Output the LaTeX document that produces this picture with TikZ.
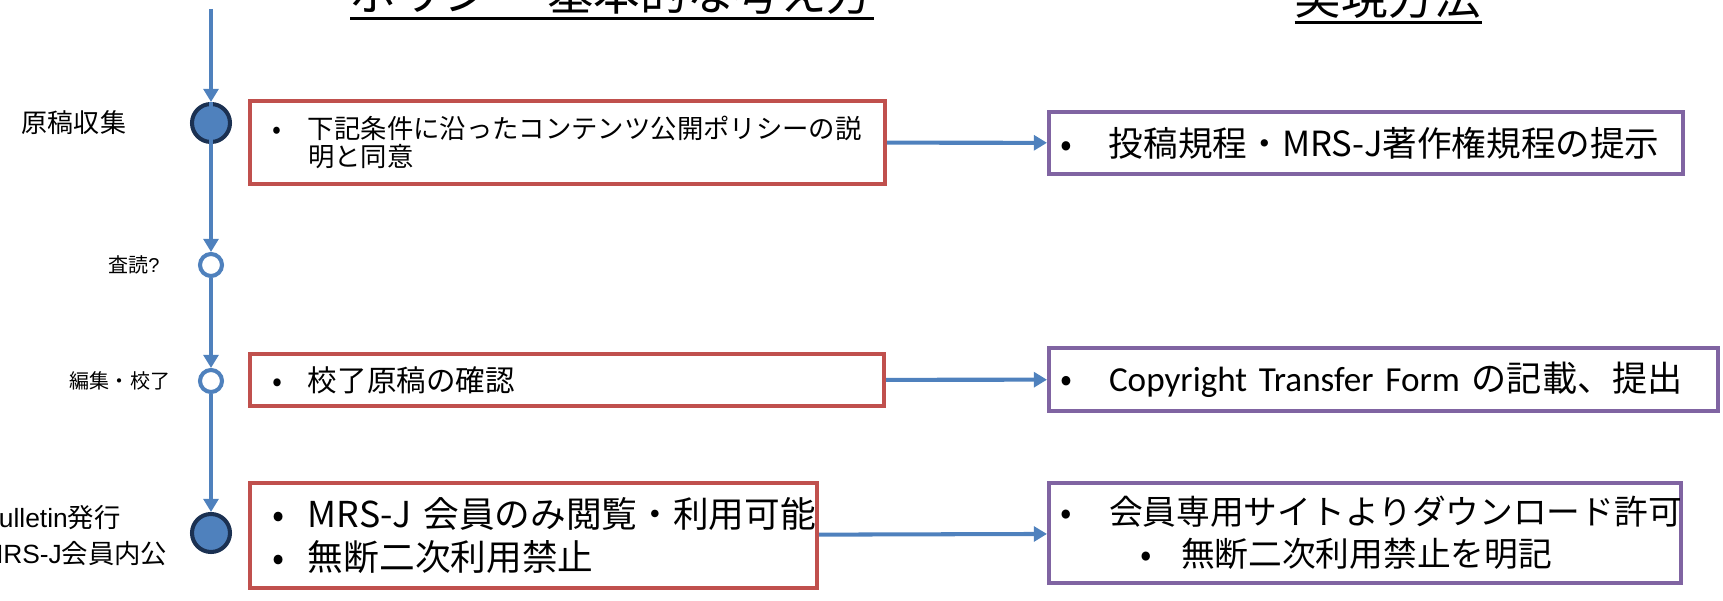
\documentclass[tikz,border=0pt]{standalone}
\usepackage{fontspec}
\setmainfont{Noto Sans CJK JP}
\newfontfamily\calibrifont{Carlito}
\newfontfamily\arialfont{Liberation Sans}
\usetikzlibrary{arrows.meta}
\definecolor{lineblue}{HTML}{4F81BD}
\definecolor{dotnavy}{HTML}{1B3152}
\definecolor{boxred}{HTML}{C0504D}
\definecolor{boxpurple}{HTML}{8064A2}
\newcommand{\lbul}[1]{\makebox[0.72cm][l]{•}#1}
\newcommand{\rbul}[1]{\makebox[0.98cm][l]{•}#1}
\tikzset{
	tline/.style={draw=lineblue, line width=2.3pt, -{Triangle[width=8.5pt,length=7.5pt]}},
	bigdot/.style={circle, draw=dotnavy, fill=lineblue, line width=2.3pt, minimum size=0.76cm, inner sep=0pt},
	ring/.style={circle, draw=lineblue, fill=white, line width=2.3pt, minimum size=0.44cm, inner sep=0pt},
	policy/.style={draw=boxred, line width=2.3pt, inner xsep=0.44cm, inner ysep=0pt, align=left},
	method/.style={draw=boxpurple, line width=2.3pt, inner xsep=0.22cm, inner ysep=0pt, align=left},
	heading/.style={anchor=base, inner sep=0pt, font=\fontsize{26.5pt}{30pt}\selectfont},
	stage/.style={inner sep=0pt, align=center},
}
\begin{document}
\begin{tikzpicture}
	\useasboundingbox (0,0) rectangle (34.46,-12.02);
	% headings
	\node[heading] (t1) at (12.24,-0.22) {ポリシー 基本的な考え方};
	\node[heading] (t2) at (27.76,-0.30) {実現方法};
	\draw[line width=1.7pt] ([yshift=-4.3pt]t1.base west) -- ([yshift=-4.3pt]t1.base east);
	\draw[line width=1.7pt] ([yshift=-4.3pt]t2.base west) -- ([yshift=-4.3pt]t2.base east);
	% timeline
	\coordinate (top) at (4.22,-0.18);
	\node[bigdot] (c1) at (4.22,-2.46) {};
	\node[ring] (c2) at (4.22,-5.30) {};
	\node[ring] (c3) at (4.22,-7.62) {};
	\node[bigdot] (c4) at (4.22,-10.66) {};
	\draw[tline] (top) -- (c1);
	\draw[tline] (c1.north) -- (c2);
	\draw[tline] (c2) -- (c3);
	\draw[tline] (c3) -- (c4);
	\node[stage, font=\fontsize{14.8pt}{18pt}\selectfont] (l1) at (1.48,-2.46) {原稿収集};
	\node[stage, font=\fontsize{11.4pt}{14pt}\selectfont] (l2) at (2.68,-5.30) {査読{\arialfont ?}};
	\node[stage, font=\fontsize{11.4pt}{14pt}\selectfont] (l3) at (2.40,-7.62) {編集・校了};
	\node[stage, align=left, anchor=west, font=\fontsize{15pt}{20pt}\selectfont] (l4) at (-0.38,-10.71)
		{{\arialfont Bulletin}発行\\{\arialfont MRS-J}会員内公};
	% policy boxes
	\node[policy, minimum width=12.70cm, minimum height=1.66cm, text width=11.82cm,
		font=\fontsize{15pt}{16pt}\selectfont] (r1) at (11.35,-2.85)
		{\lbul{下記条件に沿ったコンテンツ公開ポリシーの説}\\\hspace*{0.72cm}明と同意};
	\node[policy, minimum width=12.68cm, minimum height=1.04cm, text width=11.80cm,
		font=\fontsize{16.8pt}{20pt}\selectfont] (r2) at (11.34,-7.60)
		{\lbul{校了原稿の確認}};
	\node[policy, minimum width=11.34cm, minimum height=2.10cm, text width=10.46cm,
		font=\fontsize{20.3pt}{24.5pt}\selectfont] (r3) at (10.67,-10.71)
		{\lbul{\mbox{MRS-J 会員のみ閲覧・利用可能}}\\\lbul{無断二次利用禁止}};
	% method boxes
	\node[method, minimum width=12.68cm, minimum height=1.24cm, text width=12.24cm,
		font=\fontsize{19.7pt}{24pt}\selectfont] (p1) at (27.32,-2.86)
		{\rbul{投稿規程・MRS-J著作権規程の提示}};
	\node[method, minimum width=13.38cm, minimum height=1.26cm, text width=12.94cm,
		font=\fontsize{20pt}{24pt}\selectfont] (p2) at (27.67,-7.59)
		{\rbul{{\calibrifont Copyright Transfer Form }の記載、提出}};
	\node[method, minimum width=12.64cm, minimum height=2.00cm, text width=12.20cm,
		font=\fontsize{19.2pt}{24pt}\selectfont] (p3) at (27.30,-10.66)
		{\rbul{会員専用サイトよりダウンロード許可}\\\hspace*{1.6cm}\makebox[0.82cm][l]{•}無断二次利用禁止を明記};
	% links
	\draw[tline] (r1) -- (p1);
	\draw[tline] (r2) -- (p2);
	\draw[tline] (r3) -- (p3);
\end{tikzpicture}
\end{document}
